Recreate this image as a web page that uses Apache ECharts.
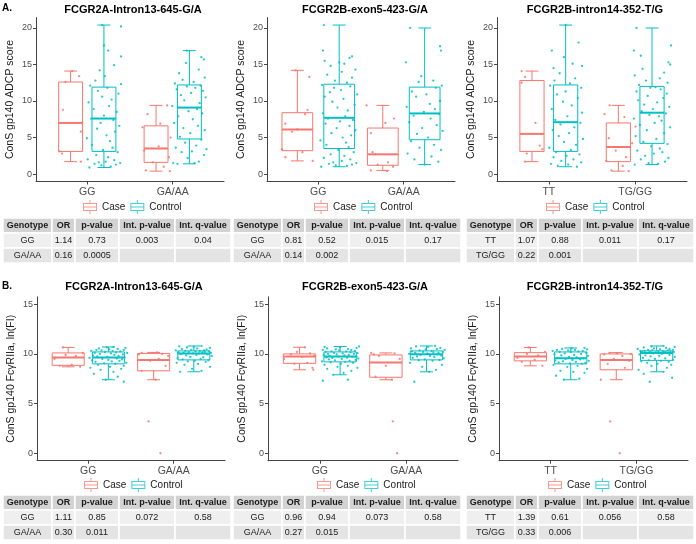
<!DOCTYPE html>
<html><head><meta charset="utf-8">
<script src="https://cdn.jsdelivr.net/npm/echarts@6/dist/echarts.min.js"></script>
<style>html,body{margin:0;padding:0;background:#fff}#c{width:696px;height:544px}</style>
</head><body><div id="c"></div>
<script>
// ---------------- DATA ----------------
const rowLabels = ['A.', 'B.'];
const panelTitles = ['FCGR2A-Intron13-645-G/A', 'FCGR2B-exon5-423-G/A', 'FCGR2B-intron14-352-T/G'];
const categories = [['GG', 'GA/AA'], ['GG', 'GA/AA'], ['TT', 'TG/GG']];
const yTitleTop = 'ConS gp140 ADCP score';
const yTitleBottom = 'ConS gp140 FcγRIIa, ln(FI)';
const yTicksTop = [0, 5, 10, 15, 20];
const yTicksBottom = [0, 5, 10, 15];
const groupNames = ['Case', 'Control'];
const tableHeader = ['Genotype', 'OR', 'p-value', 'Int. p-value', 'Int. q-value'];
const tableA1 = [['GG', '1.14', '0.73', '0.003', '0.04'], ['GA/AA', '0.16', '0.0005', '', '']];
const tableA2 = [['GG', '0.81', '0.52', '0.015', '0.17'], ['GA/AA', '0.14', '0.002', '', '']];
const tableA3 = [['TT', '1.07', '0.88', '0.011', '0.17'], ['TG/GG', '0.22', '0.001', '', '']];
const tableB1 = [['GG', '1.11', '0.85', '0.072', '0.58'], ['GA/AA', '0.30', '0.011', '', '']];
const tableB2 = [['GG', '0.96', '0.94', '0.073', '0.58'], ['GA/AA', '0.27', '0.015', '', '']];
const tableB3 = [['TT', '1.39', '0.61', '0.056', '0.58'], ['TG/GG', '0.33', '0.006', '', '']];

// box statistics per category: [min, Q1, median, Q3, max]
const boxA1Case = [[1.7, 3.1, 7.0, 12.6, 14.1], [0.4, 1.6, 3.5, 6.6, 9.4]];
const boxA1Control = [[0.9, 3.1, 7.6, 11.9, 20.4], [1.4, 4.8, 9.1, 12.2, 16.9]];
const boxA2Case = [[1.8, 3.2, 6.1, 8.4, 14.2], [0.5, 1.2, 2.7, 6.3, 9.4]];
const boxA2Control = [[1.0, 3.5, 7.7, 12.3, 20.4], [1.3, 4.7, 8.3, 11.9, 20.0]];
const boxA3Case = [[1.7, 3.1, 5.5, 12.8, 14.1], [0.4, 1.7, 3.7, 7.0, 9.4]];
const boxA3Control = [[1.0, 3.1, 7.1, 12.2, 20.4], [1.3, 4.2, 8.4, 12.0, 20.0]];
const boxB1Case = [[8.7, 8.85, 9.65, 10.1, 10.65], [7.4, 8.3, 9.4, 10.05, 10.15]];
const boxB1Control = [[7.4, 9.0, 9.65, 10.2, 10.7], [8.2, 9.4, 10.05, 10.3, 10.8]];
const boxB2Case = [[8.4, 9.05, 9.73, 10.0, 10.67], [7.4, 7.65, 9.13, 9.9, 10.1]];
const boxB2Control = [[7.9, 9.2, 9.73, 10.2, 10.75], [8.2, 9.4, 9.97, 10.3, 10.8]];
const boxB3Case = [[8.8, 9.3, 9.73, 10.13, 10.65], [7.4, 8.4, 9.4, 10.0, 10.13]];
const boxB3Control = [[7.4, 9.0, 9.56, 10.2, 10.6], [8.2, 9.35, 10.1, 10.3, 10.8]];

// individual points: [horizontal jitter (hundredths of a category), value]
const ptsA1CaseGG = [[2,14.1],[10,13.4],[-6,12.6],[-9,8.8],[12,5.8],[-13,3.1],[-10,2.8],[12,1.7]];
const ptsA1ControlGG = [[-17,0.9],[8,1.0],[-3,1.2],[14,1.3],[-11,1.4],[19,1.5],[-6,1.6],[2,1.7],[12,1.9],[-19,2.0],
 [5,2.3],[-9,2.6],[16,3.0],[-1,3.3],[10,3.6],[-14,4.0],[7,4.5],[-20,4.9],[3,5.3],[13,5.8],
 [-8,6.2],[18,6.6],[-4,7.0],[11,7.4],[-15,7.6],[0,8.0],[15,8.5],[-12,8.9],[6,9.3],[-18,9.8],
 [9,10.2],[-2,10.6],[17,11.0],[-7,11.4],[4,11.8],[-16,12.1],[20,12.3],[-10,12.8],[1,13.4],[-5,14.2],
 [12,14.9],[20,16.1],[5,16.9],[0,17.6],[20,20.2],[-2,20.4]];
const ptsA1CaseGAAA = [[16,0.4],[-12,0.5],[9,1.0],[-4,1.6],[15,2.3],[-14,3.2],[3,3.8],[17,5.0],[-16,6.4],[5,6.9],[-10,8.2],[13,9.4]];
const ptsA1ControlGAAA = [[-14,1.4],[6,1.5],[-19,1.5],[11,1.7],[-2,2.2],[17,2.6],[-9,3.0],[3,3.1],[20,3.4],[-16,3.6],
 [8,3.9],[-5,4.3],[14,4.7],[-11,5.1],[1,5.6],[18,6.0],[-7,6.3],[10,6.6],[-18,7.0],[4,7.5],
 [-13,7.9],[15,8.3],[-1,8.6],[9,8.9],[-20,9.3],[12,9.7],[-6,10.1],[19,10.5],[-10,10.8],[2,11.1],
 [16,11.4],[-15,11.6],[7,11.8],[-3,12.0],[13,12.1],[-17,12.4],[5,12.6],[-8,12.9],[18,13.2],[-12,13.8],
 [11,14.3],[-4,15.2],[17,15.7],[14,16.0],[-3,16.9]];

const ptsA2CaseGG = [[18,1.8],[-14,2.3],[6,3.0],[-18,3.4],[-6,5.8],[0,6.1],[-14,6.9],[9,8.2],[12,8.8],[14,13.3],[-2,14.2]];
const ptsA2ControlGG = [[-21,1.0],[9,1.1],[-4,1.2],[15,1.3],[-12,1.4],[20,1.5],[-7,1.6],[3,1.8],[13,2.0],[-18,2.2],[6,2.5],[-10,2.7],[17,3.0],[-1,3.3],
 [11,3.7],[-15,4.0],[8,4.3],[-22,4.6],[4,5.0],[14,5.3],[-9,5.6],[19,6.0],[-3,6.3],[12,6.6],[-16,6.9],[1,7.2],[16,7.4],[-13,7.6],
 [7,7.9],[-19,8.3],[10,8.7],[-2,9.1],[18,9.5],[-8,9.9],[5,10.3],[-17,10.6],[21,10.9],[-11,11.2],[2,11.5],[-6,11.8],[13,12.0],[-20,12.2],
 [9,12.5],[-5,12.8],[15,13.2],[-14,13.6],[3,14.0],[19,14.3],[-10,14.8],[6,15.1],[-17,15.5],[12,15.9],[15,16.1],[-19,16.9],[0,15.3],[-18,20.4]];
const ptsA2CaseGAAA = [[5,0.4],[-14,0.5],[12,1.0],[-6,1.3],[6,1.6],[-9,2.7],[-12,3.0],[-14,5.6],[3,7.0],[13,7.6],[-19,9.4]];
const ptsA2ControlGAAA = [[0,1.3],[16,1.7],[-12,2.0],[8,2.4],[-20,2.8],[19,3.3],[-6,3.6],[11,4.0],[-16,4.5],
 [4,5.0],[-9,5.5],[21,5.9],[-3,6.3],[14,6.7],[-18,7.1],[7,7.6],[-13,8.0],[17,8.2],
 [-1,8.5],[12,8.9],[-21,9.2],[6,9.6],[18,10.0],[-10,10.6],[2,10.9],[-15,11.3],[13,11.8],
 [20,12.1],[-7,12.6],[10,12.8],[-4,13.4],[-22,15.3],[19,16.9],[18,17.5],[-17,20.0]];

const ptsA3CaseTT = [[-8,1.7],[-6,2.8],[12,3.4],[9,3.9],[4,7.0],[-12,12.5],[-8,13.3],[-12,14.1]];
const ptsA3ControlTT = [[13,1.0],[-9,1.1],[3,1.3],[-17,1.4],[18,1.6],[-5,1.8],[9,2.0],[-14,2.3],[1,2.5],[16,2.7],[-11,3.0],
 [6,3.3],[-19,3.6],[12,4.0],[-2,4.4],[20,4.8],[-8,5.2],[4,5.6],[-15,6.0],[10,6.4],[-6,6.8],[17,7.0],
 [-12,7.4],[2,7.9],[19,8.4],[-16,8.9],[7,9.4],[-3,9.9],[14,10.4],[-10,10.9],[0,11.3],[18,11.8],[-18,12.1],
 [5,12.4],[-13,12.8],[11,13.1],[-7,13.8],[-14,14.5],[19,14.8],[8,15.1],[-2,16.0],[-16,16.9],[15,18.0],[0,20.4]];
const ptsA3CaseTGGG = [[12,0.4],[-8,0.5],[5,1.1],[-14,1.8],[9,2.3],[-3,3.2],[16,4.2],[-11,4.9],[20,6.5],[7,7.8],[-16,8.2],[-10,9.4]];
const ptsA3ControlTGGG = [[-20,1.3],[7,1.4],[-4,1.5],[15,1.7],[-13,2.0],[19,2.2],[-8,2.5],[2,2.8],[12,3.0],[-17,3.2],[9,3.5],[-1,3.8],[18,4.1],
 [-10,4.4],[5,4.8],[-19,5.2],[14,5.6],[-6,6.0],[21,6.4],[-14,6.7],[3,7.0],[11,7.3],[-21,7.6],[8,7.9],[-3,8.1],[16,8.3],
 [-12,8.6],[1,8.9],[20,9.2],[-9,9.5],[6,9.8],[-16,10.1],[13,10.4],[-5,10.7],[17,11.0],[-18,11.3],[10,11.6],[-2,11.8],[4,11.9],
 [-15,12.2],[18,12.5],[-7,12.8],[9,13.1],[-20,13.5],[14,13.9],[-11,14.4],[21,15.0],[19,15.3],[-13,16.2],[-21,16.9],[22,17.6],[-18,20.0]];

const ptsB1CaseGG = [[14,8.7],[-10,8.8],[4,8.9],[-16,9.5],[9,9.8],[-3,9.9],[17,10.1],[-6,10.65]];
const ptsB1ControlGG = [[18,7.2],[-3,7.4],[11,7.7],[-17,8.0],[6,8.2],[-9,8.4],[15,8.5],[-21,8.6],[2,8.7],[18,8.8],[-12,8.9],[8,9.0],
 [-5,9.05],[21,9.1],[-15,9.2],[4,9.25],[13,9.3],[-19,9.35],[0,9.4],[16,9.45],[-7,9.5],[10,9.55],[-22,9.6],[19,9.65],
 [-1,9.7],[-13,9.75],[12,9.8],[-18,9.85],[7,9.9],[17,9.95],[-10,10.0],[3,10.05],[22,10.1],[-16,10.1],[9,10.15],[-4,10.2],
 [14,10.25],[-20,10.3],[5,10.3],[-8,10.35],[18,10.4],[-14,10.4],[1,10.45],[11,10.5],[-11,10.55],[20,10.6],[-2,10.65],[6,10.7]];
const ptsB1CaseGAAA = [[8,0.0],[-6,3.2],[2,7.4],[-14,8.3],[14,8.8],[-4,9.3],[6,9.5],[17,9.8],[-17,9.95],[10,10.0],[-14,10.1],[4,10.15]];
const ptsB1ControlGAAA = [[-16,8.2],[9,8.3],[-2,8.5],[19,8.7],[-11,8.9],[5,9.0],[-20,9.1],[14,9.2],[-7,9.25],[1,9.3],[17,9.35],
 [-13,9.45],[8,9.5],[-19,9.6],[11,9.65],[-4,9.7],[21,9.8],[-9,9.85],[3,9.9],[16,9.95],[-15,10.0],[6,10.05],
 [-1,10.05],[20,10.1],[-12,10.1],[10,10.15],[-18,10.15],[13,10.2],[-6,10.2],[2,10.25],[18,10.25],[-10,10.3],[7,10.3],
 [-21,10.35],[12,10.35],[-3,10.4],[15,10.45],[-14,10.5],[4,10.55],[19,10.6],[-8,10.65],[0,10.7],[-17,10.75],[9,10.8]];

const ptsB2CaseGG = [[16,8.4],[15,8.6],[-6,9.0],[9,9.1],[-18,9.5],[3,9.7],[17,9.8],[-10,9.95],[12,10.05],[-3,10.2],[6,10.65]];
const ptsB2ControlGG = [[-20,7.3],[9,7.4],[-8,7.9],[4,8.1],[13,8.3],[-15,8.5],[20,8.6],[-3,8.7],[9,8.8],[-18,8.9],[1,9.0],[15,9.1],[-11,9.15],
 [6,9.2],[-21,9.25],[11,9.3],[-6,9.35],[18,9.4],[-13,9.45],[2,9.5],[21,9.55],[-9,9.6],[8,9.62],[-16,9.65],[14,9.7],[-2,9.72],
 [19,9.75],[-12,9.8],[5,9.85],[-19,9.9],[10,9.9],[-4,9.95],[16,10.0],[-14,10.0],[3,10.05],[20,10.1],[-7,10.1],[12,10.15],[-17,10.2],
 [7,10.25],[-10,10.25],[17,10.3],[-1,10.35],[-20,10.4],[13,10.4],[-5,10.45],[9,10.5],[-15,10.55],[19,10.6],[0,10.65],[-18,10.7],[22,10.75]];
const ptsB2CaseGAAA = [[13,0.0],[8,3.2],[7,7.4],[-12,7.7],[0,8.8],[16,9.5],[-8,9.8],[-14,9.95],[10,10.05],[-17,10.1]];
const ptsB2ControlGAAA = [[-14,7.2],[3,8.2],[11,8.4],[-5,8.7],[18,8.9],[-19,9.1],[7,9.3],[-9,9.35],[15,9.4],
 [-2,9.45],[20,9.55],[-16,9.6],[9,9.7],[-11,9.75],[4,9.8],[17,9.85],[-7,9.9],[13,9.95],
 [-20,10.0],[1,10.05],[14,10.1],[-13,10.1],[8,10.15],[-4,10.2],[19,10.2],[-17,10.25],[6,10.3],
 [-8,10.35],[21,10.4],[-1,10.45],[12,10.5],[-18,10.55],[16,10.6],[2,10.7],[-12,10.75],[10,10.8]];

const ptsB3CaseTT = [[14,8.8],[-10,9.2],[5,9.4],[-15,9.6],[9,9.85],[-4,10.0],[17,10.2],[-2,10.65]];
const ptsB3ControlTT = [[-8,7.4],[10,7.5],[-17,7.8],[16,8.1],[3,8.2],[-12,8.3],[19,8.5],[-4,8.7],[8,8.8],[-20,8.9],[13,9.0],
 [-1,9.05],[17,9.1],[-14,9.15],[6,9.2],[-9,9.25],[21,9.3],[-18,9.35],[2,9.4],[11,9.45],[-6,9.5],[15,9.55],
 [-15,9.6],[7,9.65],[-2,9.7],[20,9.8],[-11,9.85],[4,9.9],[-19,9.95],[12,10.0],[-7,10.05],[18,10.1],[0,10.2],
 [-13,10.2],[9,10.25],[-21,10.3],[14,10.3],[-3,10.35],[5,10.4],[-16,10.4],[19,10.45],[-10,10.5],[1,10.55],[16,10.6]];
const ptsB3CaseTGGG = [[4,0.0],[-7,3.2],[-18,7.4],[10,8.6],[-10,9.0],[15,9.3],[-3,9.5],[7,9.8],[-14,9.95],[17,10.0],[1,10.05],[-8,10.1]];
const ptsB3ControlTGGG = [[-8,7.2],[18,7.6],[-15,8.0],[8,8.2],[-21,8.4],[12,8.6],[-6,8.8],[17,8.9],[1,9.0],[-11,9.1],[14,9.2],[-18,9.25],[5,9.3],
 [-9,9.35],[19,9.4],[-2,9.5],[10,9.55],[-16,9.6],[21,9.7],[-7,9.75],[3,9.8],[-13,9.85],[15,9.9],[-20,9.95],[6,10.0],[-4,10.05],
 [18,10.1],[-12,10.1],[11,10.15],[-1,10.15],[-17,10.2],[9,10.2],[20,10.2],[-8,10.25],[2,10.25],[16,10.25],[-14,10.3],[7,10.3],[-19,10.3],
 [13,10.35],[-5,10.35],[19,10.4],[-10,10.4],[4,10.45],[-22,10.5],[15,10.5],[-3,10.55],[11,10.6],[-15,10.65],[21,10.7],[-6,10.75],[8,10.8]];

// ---------------- LAYOUT / STYLE ----------------
const FONT = '"Liberation Sans", Arial, Helvetica, sans-serif';
const COLORS = ['#F8766D', '#00BFC4'];
const AXIS_COLOR = '#444';
const LABEL_COLOR = '#4d4d4d';

const panels = [
  {g: {left: 36, top: 17.6, width: 188, height: 163.9}, boxW: 0.28, dodge: 0.195, yr: [-1.02, 21.42], ticks: yTicksTop, yTitle: yTitleTop, cats: categories[0], title: panelTitles[0], titleX: 133, titleY: 9.5, legend: [83, 200], table: tableA1, tpos: [3, 218], box: [boxA1Case, boxA1Control], pts: [[ptsA1CaseGG, ptsA1CaseGAAA], [ptsA1ControlGG, ptsA1ControlGAAA]]},
  {g: {left: 267, top: 17.6, width: 188, height: 163.9}, boxW: 0.36, dodge: 0.245, yr: [-1.02, 21.42], ticks: yTicksTop, yTitle: yTitleTop, cats: categories[1], title: panelTitles[1], titleX: 365, titleY: 9.5, legend: [314, 200], table: tableA2, tpos: [233, 218], box: [boxA2Case, boxA2Control], pts: [[ptsA2CaseGG, ptsA2CaseGAAA], [ptsA2ControlGG, ptsA2ControlGAAA]]},
  {g: {left: 497, top: 17.6, width: 190, height: 163.9}, boxW: 0.28, dodge: 0.195, yr: [-1.02, 21.42], ticks: yTicksTop, yTitle: yTitleTop, cats: categories[2], title: panelTitles[2], titleX: 595, titleY: 9.5, legend: [546, 200], table: tableA3, tpos: [466, 218], box: [boxA3Case, boxA3Control], pts: [[ptsA3CaseTT, ptsA3CaseTGGG], [ptsA3ControlTT, ptsA3ControlTGGG]]},
  {g: {left: 37, top: 296.8, width: 188, height: 163.9}, boxW: 0.375, dodge: 0.235, yr: [-0.75, 15.75], ticks: yTicksBottom, yTitle: yTitleBottom, cats: categories[0], title: panelTitles[0], titleX: 134, titleY: 287, legend: [84, 478], table: tableB1, tpos: [3, 495], box: [boxB1Case, boxB1Control], pts: [[ptsB1CaseGG, ptsB1CaseGAAA], [ptsB1ControlGG, ptsB1ControlGAAA]]},
  {g: {left: 268, top: 296.8, width: 190, height: 163.9}, boxW: 0.375, dodge: 0.235, yr: [-0.75, 15.75], ticks: yTicksBottom, yTitle: yTitleBottom, cats: categories[1], title: panelTitles[1], titleX: 365, titleY: 287, legend: [317, 478], table: tableB2, tpos: [233, 495], box: [boxB2Case, boxB2Control], pts: [[ptsB2CaseGG, ptsB2CaseGAAA], [ptsB2ControlGG, ptsB2ControlGAAA]]},
  {g: {left: 499, top: 296.8, width: 189, height: 163.9}, boxW: 0.375, dodge: 0.235, yr: [-0.75, 15.75], ticks: yTicksBottom, yTitle: yTitleBottom, cats: categories[2], title: panelTitles[2], titleX: 595, titleY: 287, legend: [548, 478], table: tableB3, tpos: [466, 495], box: [boxB3Case, boxB3Control], pts: [[ptsB3CaseTT, ptsB3CaseTGGG], [ptsB3ControlTT, ptsB3ControlTGGG]]}
];

const CAP_W = 0.15;
const COL_W = [49, 23, 44, 56, 56];
const ROW_H = 15;
const LEGEND_ICON = 'path://M0,3h14v1h-14zM0,10h14v1h-14zM0,3h1v8h-1zM13,3h1v8h-1zM0,6.5h14v1h-14zM6.5,0h1v3h-1zM6.5,11h1v3h-1z';

function boxRenderer(color, boxW) {
  return function (params, api) {
    const x = api.value(0);
    const lo = api.coord([x, api.value(1)]);
    const q1 = api.coord([x, api.value(2)]);
    const md = api.coord([x, api.value(3)]);
    const q3 = api.coord([x, api.value(4)]);
    const hi = api.coord([x, api.value(5)]);
    const bw = api.size([boxW, 0])[0];
    const cw = api.size([CAP_W, 0])[0];
    const cx = md[0];
    const st = {stroke: color, lineWidth: 1, fill: null};
    return {type: 'group', children: [
      {type: 'line', shape: {x1: cx, y1: q3[1], x2: cx, y2: hi[1]}, style: st},
      {type: 'line', shape: {x1: cx, y1: q1[1], x2: cx, y2: lo[1]}, style: st},
      {type: 'line', shape: {x1: cx - cw / 2, y1: hi[1], x2: cx + cw / 2, y2: hi[1]}, style: st},
      {type: 'line', shape: {x1: cx - cw / 2, y1: lo[1], x2: cx + cw / 2, y2: lo[1]}, style: st},
      {type: 'rect', shape: {x: cx - bw / 2, y: q3[1], width: bw, height: q1[1] - q3[1]}, style: {stroke: color, lineWidth: 1, fill: 'rgba(255,255,255,0)'}},
      {type: 'line', shape: {x1: cx - bw / 2, y1: md[1], x2: cx + bw / 2, y2: md[1]}, style: {stroke: color, lineWidth: 2}}
    ]};
  };
}

const grid = [], xAxis = [], yAxis = [], series = [], legend = [], graphic = [];

panels.forEach((p, i) => {
  grid.push(Object.assign({containLabel: false}, p.g));
  const cats = p.cats;
  xAxis.push({
    gridIndex: i, type: 'value', min: 0.4, max: 2.6,
    axisLine: {show: true, onZero: false, lineStyle: {color: AXIS_COLOR, width: 1}},
    axisTick: {show: true, length: 3, customValues: [1, 2], lineStyle: {color: AXIS_COLOR}},
    axisLabel: {customValues: [1, 2], formatter: v => cats[Math.round(v) - 1], fontSize: 10.5, color: LABEL_COLOR, fontFamily: FONT, margin: 5},
    splitLine: {show: false}
  });
  yAxis.push({
    gridIndex: i, type: 'value', min: p.yr[0], max: p.yr[1],
    name: p.yTitle, nameLocation: 'middle', nameGap: 20, nameRotate: 90,
    nameTextStyle: {fontSize: 10.5, color: '#1a1a1a', fontFamily: FONT},
    axisLine: {show: true, onZero: false, lineStyle: {color: AXIS_COLOR, width: 1}},
    axisTick: {show: true, length: 3, customValues: p.ticks, lineStyle: {color: AXIS_COLOR}},
    axisLabel: {customValues: p.ticks, fontSize: 9, color: LABEL_COLOR, fontFamily: FONT, margin: 4},
    splitLine: {show: false}
  });
  [0, 1].forEach(g => {
    const sign = g === 0 ? -1 : 1;
    const color = COLORS[g];
    series.push({
      type: 'custom', name: groupNames[g], xAxisIndex: i, yAxisIndex: i, z: 2, silent: true,
      itemStyle: {color: color},
      renderItem: boxRenderer(color, p.boxW),
      encode: {x: 0, y: [1, 2, 3, 4, 5]},
      data: p.box[g].map((s, k) => [k + 1 + sign * p.dodge].concat(s))
    });
    const pts = [];
    p.pts[g].forEach((arr, k) => arr.forEach(d => pts.push([k + 1 + sign * p.dodge + d[0] / 100, d[1]])));
    series.push({
      type: 'scatter', name: groupNames[g], xAxisIndex: i, yAxisIndex: i, z: 3, silent: true,
      symbol: 'circle', symbolSize: 2.3, itemStyle: {color: color, opacity: 0.85},
      data: pts
    });
  });
  legend.push({
    left: p.legend[0], top: p.legend[1], orient: 'horizontal', itemWidth: 14, itemHeight: 14, itemGap: 5,
    selectedMode: false, padding: 0,
    textStyle: {fontSize: 10, color: '#1a1a1a', fontFamily: FONT},
    data: groupNames.map((n, g) => ({name: n, icon: LEGEND_ICON, itemStyle: {color: COLORS[g], opacity: 0.75}}))
  });
  graphic.push({type: 'text', x: p.titleX, y: p.titleY, style: {text: p.title, fill: '#000', font: 'bold 11px ' + FONT, align: 'center', verticalAlign: 'middle'}});
  // table
  const rows = [tableHeader].concat(p.table);
  rows.forEach((r, ri) => {
    let x = p.tpos[0];
    const y = p.tpos[1] + ri * ROW_H;
    const fill = ri === 0 ? '#d3d3d3' : (ri === 1 ? '#efefef' : '#e4e4e4');
    r.forEach((cell, ci) => {
      const w = COL_W[ci];
      graphic.push({type: 'rect', shape: {x: x, y: y, width: w, height: ROW_H}, style: {fill: fill, stroke: '#ffffff', lineWidth: 1.5}});
      if (cell) graphic.push({type: 'text', x: x + w / 2, y: y + ROW_H / 2, style: {text: cell, fill: '#1a1a1a', font: (ri === 0 ? 'bold ' : '') + '9px ' + FONT, align: 'center', verticalAlign: 'middle'}});
      x += w;
    });
  });
});

graphic.push({type: 'text', x: 2, y: 8, style: {text: rowLabels[0], fill: '#000', font: 'bold 10px ' + FONT, align: 'left', verticalAlign: 'middle'}});
graphic.push({type: 'text', x: 2, y: 286, style: {text: rowLabels[1], fill: '#000', font: 'bold 10px ' + FONT, align: 'left', verticalAlign: 'middle'}});

const chart = echarts.init(document.getElementById('c'), null, {renderer: 'canvas'});
chart.setOption({
  animation: false,
  backgroundColor: '#ffffff',
  textStyle: {fontFamily: FONT},
  grid, xAxis, yAxis, series, legend, graphic
});
</script></body></html>
